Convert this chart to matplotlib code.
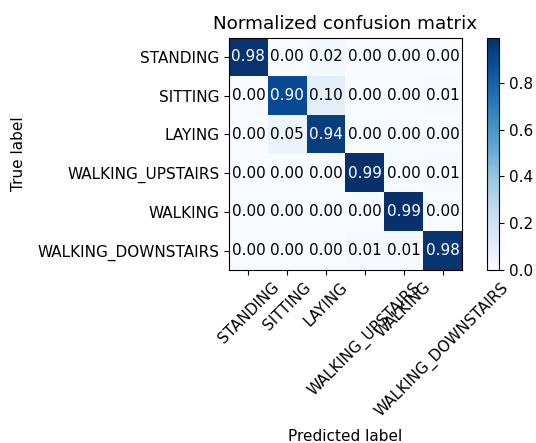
import numpy as np
import matplotlib
matplotlib.use("Agg")
import matplotlib.pyplot as plt

classes = ["STANDING", "SITTING", "LAYING", "WALKING_UPSTAIRS", "WALKING", "WALKING_DOWNSTAIRS"]
row_standing = [0.98, 0.002, 0.018, 0.0, 0.0, 0.0]
row_sitting = [0.002, 0.896, 0.098, 0.0, 0.0, 0.006]
row_laying = [0.003, 0.054, 0.943, 0.0, 0.0, 0.0]
row_up = [0.002, 0.0, 0.002, 0.99, 0.0, 0.006]
row_walk = [0.002, 0.0, 0.0, 0.002, 0.994, 0.002]
row_down = [0.0, 0.0, 0.002, 0.01, 0.01, 0.978]
cm = np.array([row_standing, row_sitting, row_laying, row_up, row_walk, row_down])

W, H = 536, 443
dpi = 100
fig = plt.figure(figsize=(W / dpi, H / dpi), dpi=dpi)
ax = fig.add_axes([229 / W, 1 - 270 / H, (462 - 229) / W, (270 - 37.5) / H])
cax = fig.add_axes([487 / W, 1 - 270 / H, (499 - 487) / W, (270 - 37.5) / H])

im = ax.imshow(cm, interpolation="nearest", cmap=plt.cm.Blues, aspect="auto")
ax.set_title("Normalized confusion matrix", fontsize=13.2)
cb = fig.colorbar(im, cax=cax)
cb.set_ticks([0.0, 0.2, 0.4, 0.6, 0.8])
cb.ax.tick_params(labelsize=11)
ticks = np.arange(len(classes))
ax.set_xticks(ticks)
ax.set_xticklabels(classes, rotation=45, fontsize=11)
ax.set_yticks(ticks)
ax.set_yticklabels(classes, fontsize=11)

thresh = cm.max() / 2.0
for i in range(cm.shape[0]):
    for j in range(cm.shape[1]):
        ax.text(j, i, format(cm[i, j], ".2f"), ha="center", va="center",
                color="white" if cm[i, j] > thresh else "black", fontsize=11)

ax.set_ylabel("True label", fontsize=11, labelpad=8)
ax.set_xlabel("Predicted label", fontsize=11, labelpad=6.5)

fig.savefig("out.png", dpi=dpi, facecolor="white")
